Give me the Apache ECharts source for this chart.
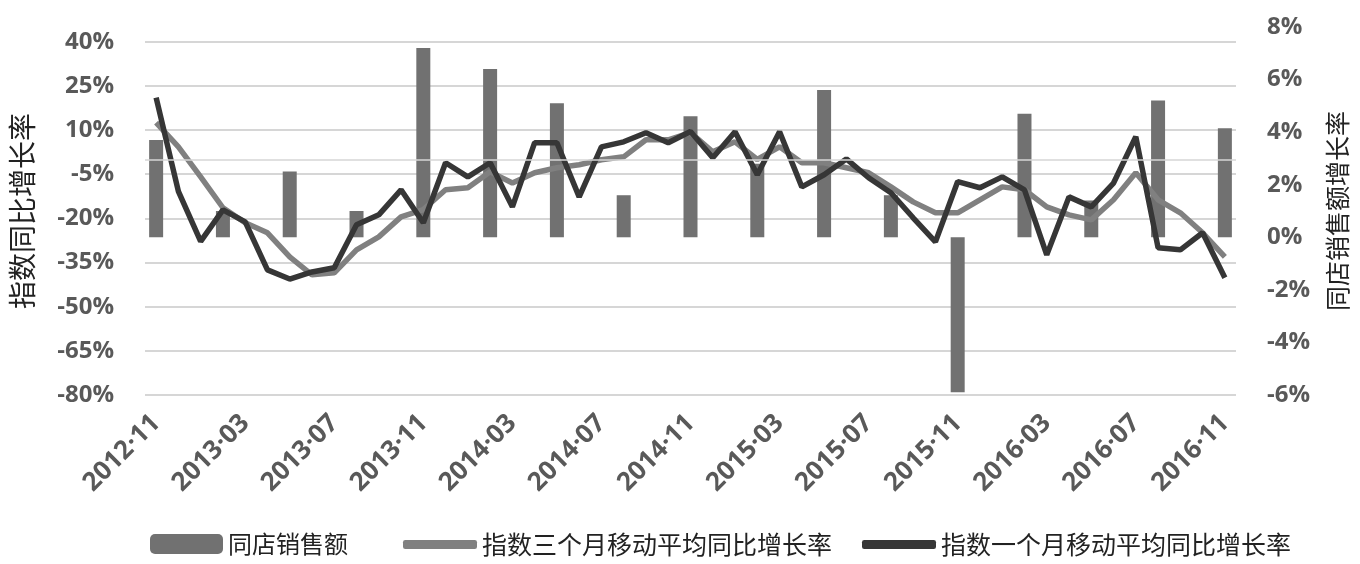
<!DOCTYPE html>
<html>
<head>
<meta charset="utf-8">
<script src="https://cdn.jsdelivr.net/npm/echarts@6/dist/echarts.min.js"></script>
<style>
  html, body { margin: 0; padding: 0; background: #fff; }
  #chart { width: 1360px; height: 564px; }
</style>
</head>
<body>
<div id="chart"></div>
<script>
const months = [
  '2012·11', '2012·12', '2013·01', '2013·02', '2013·03', '2013·04', '2013·05', '2013·06', '2013·07',
  '2013·08', '2013·09', '2013·10', '2013·11', '2013·12', '2014·01', '2014·02', '2014·03', '2014·04',
  '2014·05', '2014·06', '2014·07', '2014·08', '2014·09', '2014·10', '2014·11', '2014·12', '2015·01',
  '2015·02', '2015·03', '2015·04', '2015·05', '2015·06', '2015·07', '2015·08', '2015·09', '2015·10',
  '2015·11', '2015·12', '2016·01', '2016·02', '2016·03', '2016·04', '2016·05', '2016·06', '2016·07',
  '2016·08', '2016·09', '2016·10', '2016·11'
];

// 同店销售额 (right axis, %), quarterly only
const storeSales = [
  3.7, null, null, 1.0, null, null, 2.5, null, null,
  1.0, null, null, 7.2, null, null, 6.4, null, null,
  5.1, null, null, 1.6, null, null, 4.6, null, null,
  2.8, null, null, 5.6, null, null, 1.6, null, null,
  -5.9, null, null, 4.7, null, null, 1.4, null, null,
  5.2, null, null, 4.15
];

// 指数三个月移动平均同比增长率 (left axis, %)
const avg3 = [
  12.5, 4.3, -5.9, -16.4, -21.5, -24.9, -33.1, -39.2, -38.5,
  -30.7, -26.3, -19.5, -17.0, -10.3, -9.6, -4.2, -8.0, -4.5,
  -2.8, -1.8, -0.1, 0.9, 6.7, 6.7, 9.1, 2.6, 6.0,
  0.0, 4.3, -1.1, -1.1, -2.8, -4.5, -9.3, -14.4, -18.1,
  -18.1, -13.7, -9.3, -10.3, -16.1, -18.8, -20.5, -13.7, -4.5,
  -13.7, -18.1, -24.9, -33.1
];

// 指数一个月移动平均同比增长率 (left axis, %)
const avg1 = [
  21.0, -10.8, -27.8, -17.1, -21.2, -37.5, -40.6, -38.2, -36.8,
  -22.2, -18.8, -10.3, -21.5, -1.1, -5.9, -1.1, -16.1, 5.7,
  5.7, -12.7, 4.3, 6.0, 9.1, 5.7, 9.5, 0.6, 9.4,
  -5.2, 9.4, -9.3, -5.2, 0.2, -6.2, -11.3, -19.8, -28.0,
  -7.5, -9.6, -5.9, -10.3, -32.4, -12.7, -16.1, -8.0, 7.7,
  -30.0, -30.7, -24.9, -40.2
];

const leftTicks = [-80, -65, -50, -35, -20, -5, 10, 25, 40];

const chart = echarts.init(document.getElementById('chart'));

const labelStyle = {
  color: '#595959',
  fontFamily: 'Open Sans',
  fontWeight: 'bold',
  fontSize: 24
};
const cjk = 'Noto Sans CJK SC';

chart.setOption({
  animation: false,
  grid: { left: 142, right: 124, top: 27, bottom: 169 },
  legend: [
    {
      left: 145,
      top: 527,
      itemWidth: 73,
      itemHeight: 20,
      textStyle: { fontFamily: cjk, fontSize: 24, color: '#222' },
      data: ['同店销售额']
    },
    {
      left: 398,
      top: 527,
      itemWidth: 74,
      itemHeight: 9,
      itemGap: 30,
      icon: 'roundRect',
      textStyle: { fontFamily: cjk, fontSize: 25, color: '#222' },
      data: ['指数三个月移动平均同比增长率', '指数一个月移动平均同比增长率']
    }
  ],
  xAxis: {
    type: 'category',
    data: months,
    boundaryGap: true,
    axisLine: { show: false },
    axisTick: { show: false },
    axisLabel: Object.assign({}, labelStyle, { interval: 3, rotate: 45, margin: 24, fontSize: 26 })
  },
  yAxis: [
    {
      type: 'value',
      min: -80,
      max: 45,
      name: '指数同比增长率',
      nameLocation: 'middle',
      nameRotate: 90,
      nameGap: 109,
      nameTextStyle: { fontFamily: cjk, fontSize: 28, color: '#222' },
      axisLine: { show: false },
      axisTick: { show: false, customValues: leftTicks },
      axisLabel: Object.assign({ margin: 31, customValues: leftTicks, formatter: v => v + '%' }, labelStyle),
      splitLine: { lineStyle: { color: '#d6d6d6', width: 2 } }
    },
    {
      type: 'value',
      min: -6,
      max: 8,
      interval: 2,
      position: 'right',
      name: '同店销售额增长率',
      nameLocation: 'middle',
      nameRotate: 90,
      nameGap: 89,
      nameTextStyle: { fontFamily: cjk, fontSize: 25, color: '#222' },
      axisLine: { show: false },
      axisTick: { show: false },
      axisLabel: Object.assign({ margin: 31, formatter: v => v + '%' }, labelStyle),
      splitLine: { show: false }
    }
  ],
  series: [
    {
      name: '同店销售额',
      type: 'bar',
      yAxisIndex: 1,
      barWidth: 14,
      data: storeSales,
      itemStyle: { color: '#717171' }
    },
    {
      name: '指数三个月移动平均同比增长率',
      type: 'line',
      yAxisIndex: 0,
      symbol: 'none',
      data: avg3,
      lineStyle: { color: '#808080', width: 5.5 },
      itemStyle: { color: '#808080' },
      markLine: {
        silent: true,
        symbol: 'none',
        label: { show: false },
        lineStyle: { color: '#d6d6d6', width: 2, type: 'solid', opacity: 0.75 },
        data: [{ yAxis: 0 }]
      }
    },
    {
      name: '指数一个月移动平均同比增长率',
      type: 'line',
      yAxisIndex: 0,
      symbol: 'none',
      data: avg1,
      lineStyle: { color: '#363636', width: 5.5 },
      itemStyle: { color: '#363636' }
    }
  ]
});
</script>
</body>
</html>
